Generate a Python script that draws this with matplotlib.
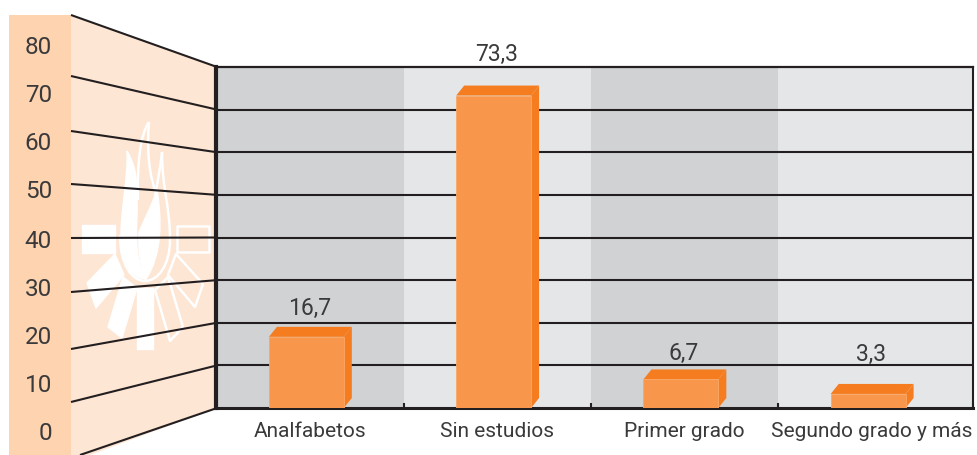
import numpy as np
import matplotlib
matplotlib.use('Agg')
import matplotlib.pyplot as plt
from matplotlib.patches import Polygon, Rectangle, PathPatch
from matplotlib.path import Path

categories = ['Analfabetos', 'Sin estudios', 'Primer grado', 'Segundo grado y más']
values = [16.7, 73.3, 6.7, 3.3]
value_labels = ['16,7', '73,3', '6,7', '3,3']
y_ticks = [0, 10, 20, 30, 40, 50, 60, 70, 80]

plt.rcParams['font.family'] = ['Roboto', 'DejaVu Sans']

DARK = '#231f20'
TEXT = '#3a3a3c'
ORANGE = '#f8964c'
ORANGE_DARK = '#f57d20'


def curve(start, *segs):
    # cubic segments, each given as 3 points
    verts = [start]
    codes = [Path.MOVETO]
    for seg in segs:
        verts += list(seg)
        codes += [Path.CURVE4] * 3
    return Path(verts, codes)


fig = plt.figure(figsize=(9.78, 4.55), dpi=100)

# left wall, in image pixels
bg = fig.add_axes([0, 0, 1, 1], zorder=0)
bg.set_xlim(0, 978)
bg.set_ylim(455, 0)
bg.axis('off')

bg.add_patch(Rectangle((9, 15), 62, 440, fc='#fdd3b0', ec='none'))
bg.add_patch(Polygon([(71, 15), (217, 66), (217, 408), (71, 462)], fc='#fee6d4', ec='none'))

# fire logo
white = dict(fc='white', ec='white', lw=1, joinstyle='round')
hollow = dict(fc='none', ec='white', lw=1.8, joinstyle='round')
filled_logo = [
    [(82, 225), (115, 225), (115, 253), (82, 253)],
    [(87, 283), (115, 254), (124, 275), (96, 308)],
    [(123, 277), (137, 288), (122, 338), (108, 327)],
    [(137, 288), (153, 288), (153, 349), (137, 349)],
]
hollow_logo = [
    [(177, 226), (209, 226), (209, 252), (177, 252)],
    [(176, 254), (203, 284), (195, 307), (168, 275)],
    [(155, 290), (168, 277), (183, 327), (170, 341)],
]
for pts in filled_logo:
    bg.add_patch(Polygon(pts, **white))
for pts in hollow_logo:
    bg.add_patch(Polygon(pts, **hollow))

# left tongue and the inner flame, filled
bg.add_patch(PathPatch(curve((127, 151),
                             ((135, 165), (137, 175), (137, 200)),
                             ((138, 225), (132, 255), (146, 279)),
                             ((130, 278), (120, 262), (121, 232)),
                             ((122, 200), (128, 180), (127, 151))), **white))
bg.add_patch(PathPatch(curve((139, 232),
                             ((145, 218), (152, 205), (157, 190)),
                             ((162, 220), (162, 255), (146, 279)),
                             ((140, 265), (138, 250), (139, 232))), **white))
# outlines of the flame
line = dict(fc='none', ec='white', lw=1.8)
bg.add_patch(PathPatch(curve((149, 122),
                             ((140, 135), (137, 165), (138, 200))), **line))
bg.add_patch(PathPatch(curve((149, 122),
                             ((147, 145), (148, 170), (155, 190))), **line))
bg.add_patch(PathPatch(curve((162, 152),
                             ((160, 170), (158, 180), (155, 195))), **line))
bg.add_patch(PathPatch(curve((162, 152),
                             ((162, 190), (170, 205), (170, 240)),
                             ((170, 265), (158, 281), (145, 281)),
                             ((132, 281), (120, 265), (120, 235))), **line))

# perspective lines from the band to the back wall
wall_left = [455, 402, 349, 292, 238, 184, 131, 76, 15]
wall_x0 = [80, 71, 71, 71, 71, 71, 71, 71, 71]
for v, yl, x0 in zip(y_ticks, wall_left, wall_x0):
    bg.plot([x0, 217], [yl, 408 - v * 341 / 80], color=DARK, lw=1.5, solid_capstyle='butt')

label_y = [434, 386, 337, 290, 241, 192, 144, 95, 47]
for v, yl in zip(y_ticks, label_y):
    bg.text(52, yl, str(v), ha='right', va='center', fontsize=17.5, color=TEXT)

# back wall with the bars
ax = fig.add_axes([216.5 / 978, (455 - 408) / 455, 756.5 / 978, 341 / 455], zorder=1)
ax.set_xlim(0, 4.04)
ax.set_ylim(0, 80)

ax.axvspan(0, 1, color='#d0d2d4', lw=0)
ax.axvspan(1, 2, color='#e4e6e8', lw=0)
ax.axvspan(2, 3, color='#d0d2d4', lw=0)
ax.axvspan(3, 4.04, color='#e4e6e8', lw=0)

ax.hlines(y_ticks[1:-1], 0, 4.04, color=DARK, lw=1.5, zorder=2)

x = np.arange(len(values)) + 0.48
width = 0.4
depth_x = 8 / 187.3
depth_y = 10 * 80 / 341
ax.bar(x, values, width, color=ORANGE, edgecolor='#fba866', lw=0.6, zorder=4)
for xi, v in zip(x, values):
    l, r = xi - width / 2, xi + width / 2
    ax.add_patch(Polygon([(l, v), (l + depth_x, v + depth_y), (r + depth_x, v + depth_y), (r, v)],
                         fc=ORANGE_DARK, ec='none', zorder=3))
    ax.add_patch(Polygon([(r, 0), (r + depth_x, depth_y), (r + depth_x, v + depth_y), (r, v)],
                         fc=ORANGE_DARK, ec='none', zorder=3))

label_gap = [28, 41, 26, 39]
for xi, v, txt, gap in zip(x, values, value_labels, label_gap):
    ax.annotate(txt, (xi + 0.015, v), xytext=(0, gap * 0.72), textcoords='offset points',
                ha='center', va='center', fontsize=16.5, color=TEXT, annotation_clip=False)

ax.set_xticks(x + 0.02)
ax.set_xticklabels(categories, fontsize=15, color=TEXT)
ax.tick_params(axis='x', which='major', length=0, pad=10)
ax.set_xticks([1, 2, 3, 4.04], minor=True)
ax.tick_params(axis='x', which='minor', direction='in', length=3.5, width=1.5, color=DARK)
ax.set_yticks([])

ax.spines['left'].set_linewidth(3)
ax.spines['bottom'].set_linewidth(2.2)
ax.spines['top'].set_linewidth(1.6)
ax.spines['right'].set_linewidth(1.5)
for s in ax.spines.values():
    s.set_color(DARK)

fig.savefig('out.png', dpi=100)
